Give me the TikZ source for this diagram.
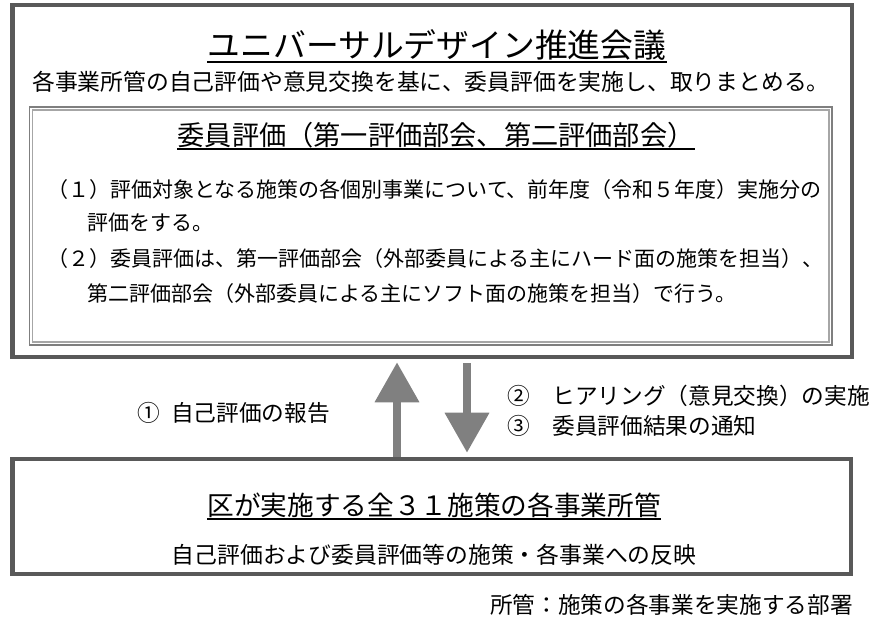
\documentclass[tikz,border=0pt]{standalone}
\usepackage{fontspec}
\setmainfont{Noto Sans CJK JP}
\usetikzlibrary{arrows.meta,fit}
\definecolor{frame}{HTML}{595959}
\definecolor{arr}{HTML}{808080}
\definecolor{dblout}{HTML}{7F7F7F}
\definecolor{dblin}{HTML}{A6A6A6}
\tikzset{
  bigbox/.style = { draw=frame, line width=3.4pt, inner sep=0pt },
  dblbox/.style = { draw=#1, line width=0.9pt, inner sep=0pt },
  txt/.style    = { inner sep=0pt, font=\fontsize{#1}{#1}\selectfont },
  uline/.style  = { line width=1.1pt },
  fat/.style    = { draw=arr, line width=6pt, -{Triangle[length=30pt,width=32pt]} }
}
\begin{document}
\begin{tikzpicture}[x=0.75pt,y=-0.75pt]
  \useasboundingbox (0,0) rectangle (877,617);
  % boxes
  \node[bigbox, fit={(12.5,5) (852,357)}] (council) {};
  \node[dblbox=dblout, fit={(29.5,107) (832,345)}] (review) {};
  \node[dblbox=dblin, fit={(32.5,110) (829,342)}] (reviewin) {};
  \node[bigbox, fit={(12.5,459) (851,574)}] (depts) {};
  % council
  \node[txt=24.6pt, anchor=base] (title) at (437,57.5) {ユニバーサルデザイン推進会議};
  \draw[uline] ([yshift=-3.5pt]title.base west) -- ([yshift=-3.5pt]title.base east);
  \node[txt=17.1pt, anchor=base] (lead) at (431,90) {各事業所管の自己評価や意見交換を基に、委員評価を実施し、取りまとめる。};
  \node[txt=20.4pt, anchor=base] (rtitle) at (436,145) {委員評価（第一評価部会、第二評価部会）};
  \draw[uline] ([yshift=-3pt]rtitle.base west) -- ([yshift=-3pt]rtitle.base east);
  \node[txt=15.75pt, anchor=base west] (item1) at (47,197) {（１）評価対象となる施策の各個別事業について、前年度（令和５年度）実施分の};
  \node[txt=15.75pt, anchor=base west] (item1b) at (87,230) {評価をする。};
  \node[txt=15.75pt, anchor=base west] (item2) at (47,266) {（２）委員評価は、第一評価部会（外部委員による主にハード面の施策を担当）、};
  \node[txt=15.75pt, anchor=base west] (item2b) at (87,301) {第二評価部会（外部委員による主にソフト面の施策を担当）で行う。};
  % departments
  \node[txt=20pt, anchor=base] (dtitle) at (434,515) {区が実施する全３１施策の各事業所管};
  \draw[uline] ([yshift=-3pt]dtitle.base west) -- ([yshift=-3pt]dtitle.base east);
  \node[txt=17.1pt, anchor=base] (dlead) at (434,563) {自己評価および委員評価等の施策・各事業への反映};
  \node[txt=17pt, anchor=base east] (note) at (853,613) {所管：施策の各事業を実施する部署};
  % arrows
  \coordinate (upx) at (397,0);
  \coordinate (downx) at (467,0);
  \draw[fat, shorten >=2.25pt] (depts.north -| upx) -- (council.south -| upx);
  \draw[fat, shorten <=3pt, shorten >=3pt] (council.south -| downx) -- (depts.north -| downx);
  \node[txt=17pt, anchor=base west] (report) at (137,421) {①\hspace{0.5em}自己評価の報告};
  \node[txt=17pt, anchor=base west] (hearing) at (507,404) {②　ヒアリング（意見交換）の実施};
  \node[txt=17pt, anchor=base west] (notify) at (507,434) {③　委員評価結果の通知};
\end{tikzpicture}
\end{document}
